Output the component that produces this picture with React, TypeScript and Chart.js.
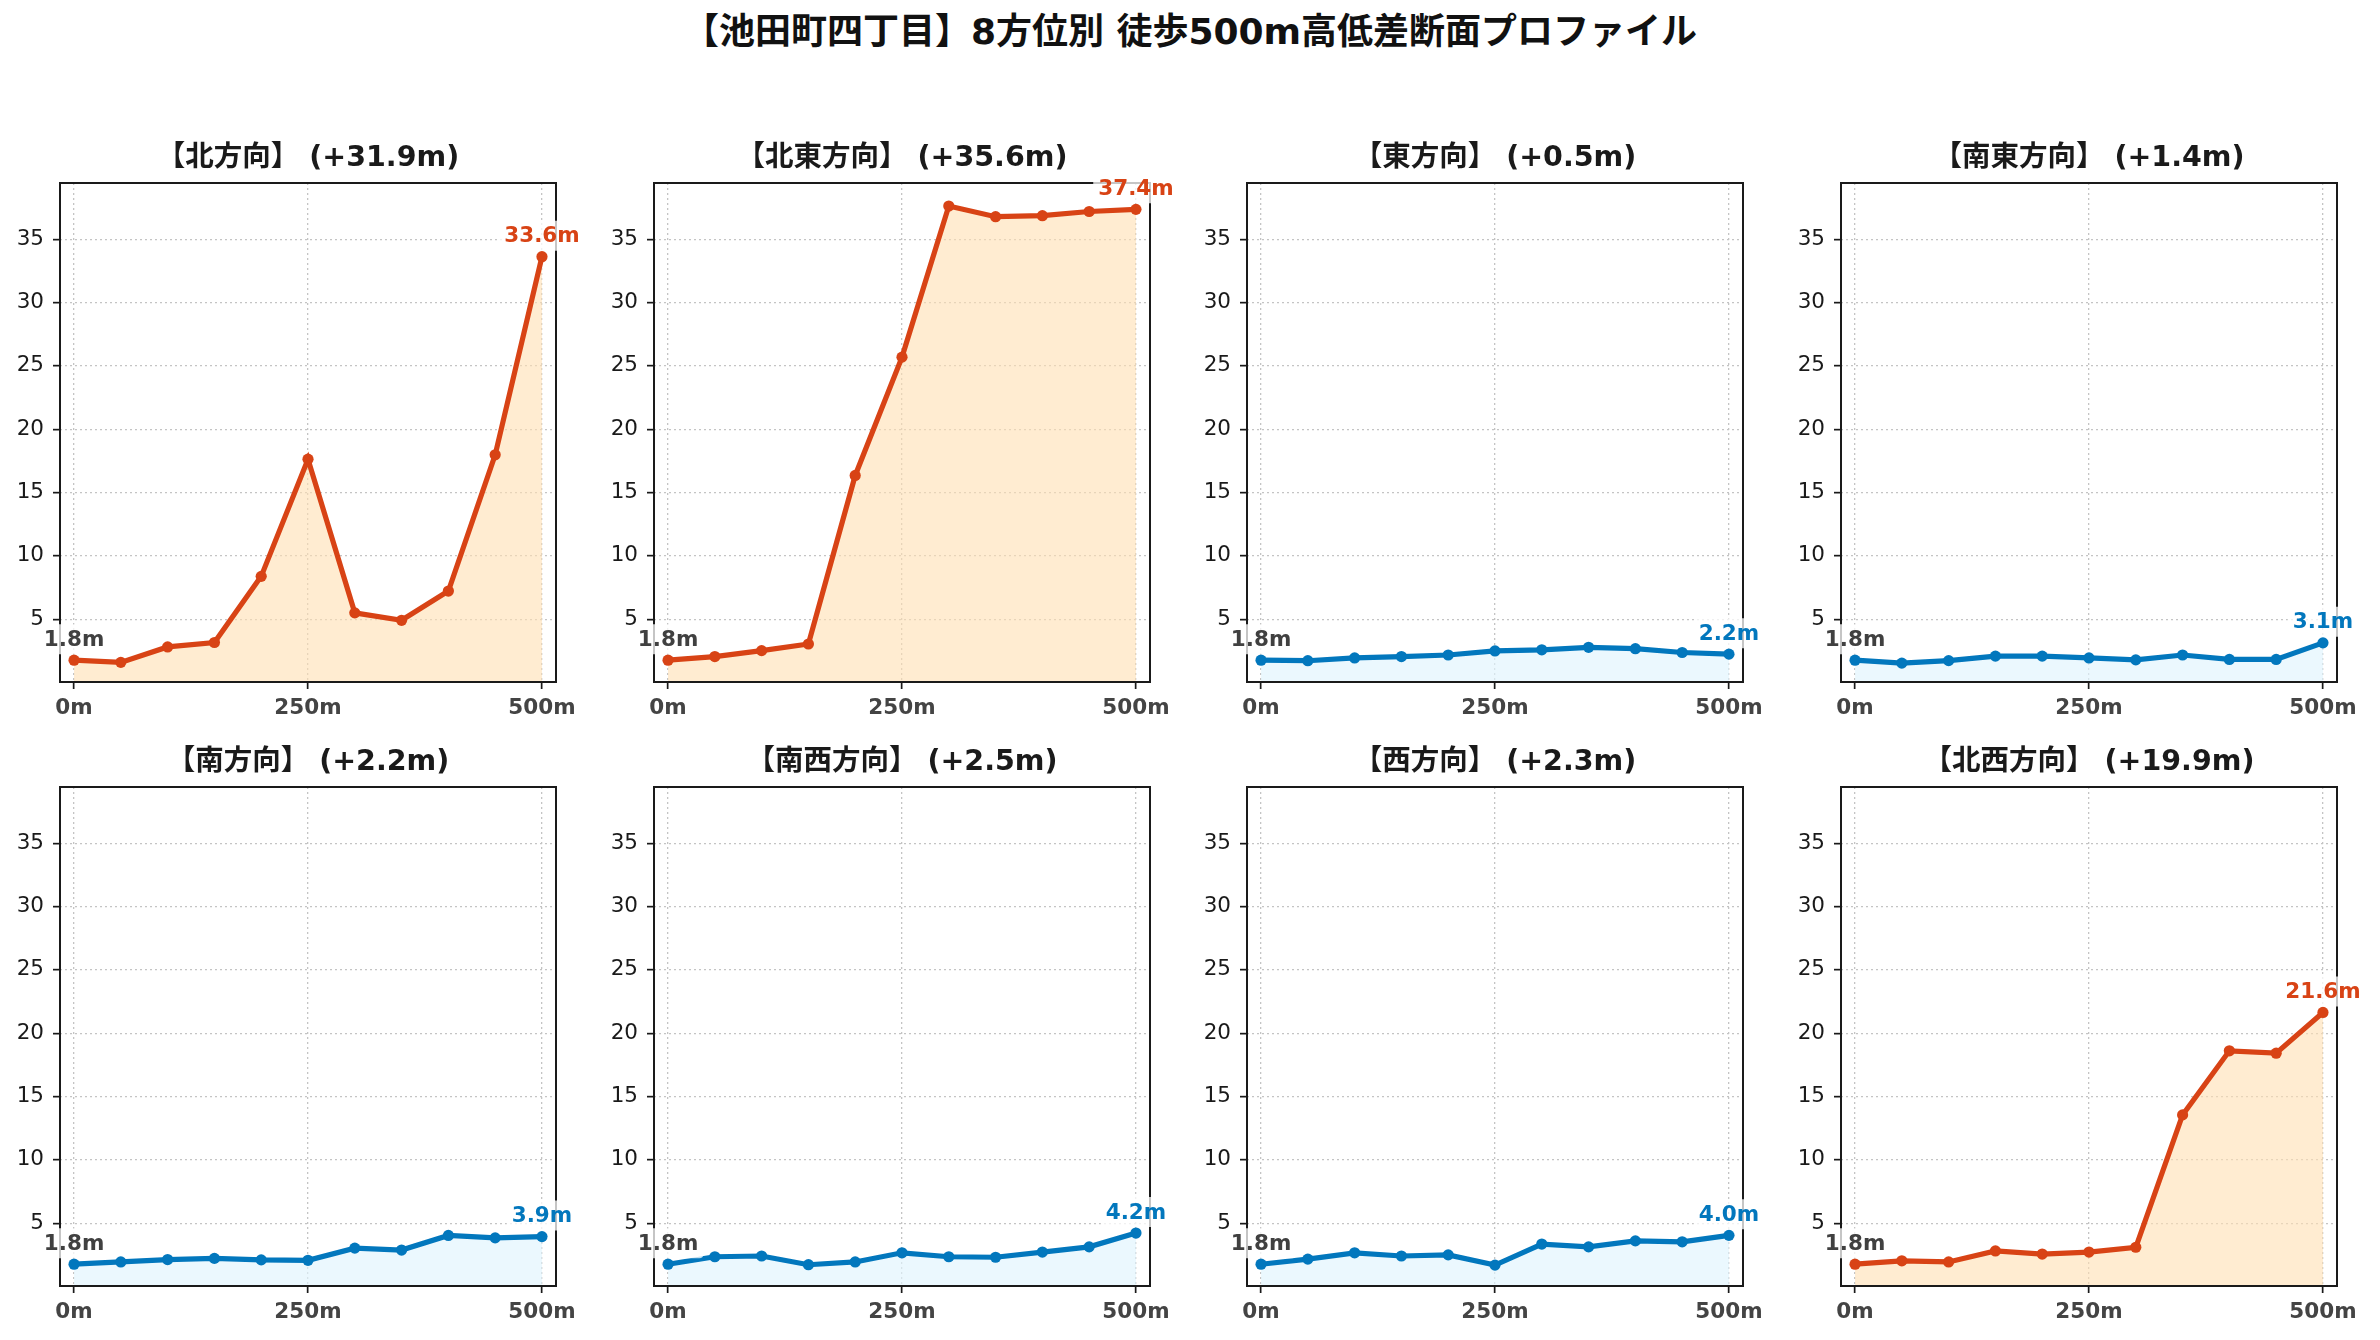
import { useEffect, useRef } from "react";
import { Chart, registerables, type ChartConfiguration, type Plugin } from "chart.js";

Chart.register(...registerables);

const FONT = '"DejaVu Sans", "Noto Sans CJK JP", sans-serif';

// distance from the start point (m)
const distances = [0, 50, 100, 150, 200, 250, 300, 350, 400, 450, 500];

// elevation (m) along each bearing
const northElev = [1.76, 1.59, 2.81, 3.16, 8.38, 17.63, 5.5, 4.91, 7.22, 17.98, 33.62];
const northEastElev = [1.76, 2.05, 2.52, 3.04, 16.35, 25.69, 37.62, 36.78, 36.86, 37.19, 37.36];
const eastElev = [1.76, 1.72, 1.94, 2.05, 2.17, 2.49, 2.58, 2.78, 2.67, 2.37, 2.24];
const southEastElev = [1.76, 1.53, 1.73, 2.08, 2.08, 1.94, 1.79, 2.17, 1.82, 1.82, 3.13];
const southElev = [1.76, 1.94, 2.13, 2.22, 2.1, 2.07, 3.03, 2.88, 4.03, 3.84, 3.94];
const southWestElev = [1.76, 2.35, 2.41, 1.72, 1.94, 2.66, 2.35, 2.31, 2.72, 3.13, 4.22];
const westElev = [1.76, 2.16, 2.66, 2.41, 2.5, 1.69, 3.35, 3.13, 3.6, 3.53, 4.04];
const northWestElev = [1.76, 2.03, 1.94, 2.81, 2.56, 2.72, 3.1, 13.55, 18.61, 18.42, 21.64];

const directionNames = ["北", "北東", "東", "南東", "南", "南西", "西", "北西"];
const directionValues = [
  northElev, northEastElev, eastElev, southEastElev,
  southElev, southWestElev, westElev, northWestElev,
];

const xTicks = [0, 250, 500];
const yTicks = [5, 10, 15, 20, 25, 30, 35];

const PANEL_LEFTS = [60, 654, 1247, 1841];
const PANEL_TOPS = [183, 787];
const AREA_W = 496;
const AREA_H = 499;
const PAD_LEFT = 60;
const PAD_TOP = 65;
const PAD_RIGHT = 44;
const PAD_BOTTOM = 52;

interface PanelProps {
  name: string;
  values: number[];
  left: number;
  top: number;
}

function ProfilePanel({ name, values, left, top }: PanelProps) {
  const canvasRef = useRef<HTMLCanvasElement>(null);
  const width = PAD_LEFT + AREA_W + PAD_RIGHT;
  const height = PAD_TOP + AREA_H + PAD_BOTTOM;

  useEffect(() => {
    if (!canvasRef.current) return;

    const gain = values[values.length - 1] - values[0];
    const rising = gain >= 5;
    const lineColor = rising ? "#D84315" : "#0277BD";
    const fillColor = rising ? "rgba(255, 224, 178, 0.6)" : "rgba(225, 245, 254, 0.65)";
    const title = `【${name}方向】 (+${gain.toFixed(1)}m)`;

    // frame, panel title and start/end tags
    const decor: Plugin<"line"> = {
      id: "decor",
      afterDraw(chart) {
        const { ctx, chartArea: a, scales } = chart;
        ctx.save();
        ctx.strokeStyle = "#1a1a1a";
        ctx.lineWidth = 2;
        ctx.strokeRect(a.left, a.top, a.right - a.left, a.bottom - a.top);

        ctx.font = `bold 28.5px ${FONT}`;
        ctx.fillStyle = "#1a1a1a";
        ctx.textAlign = "center";
        ctx.textBaseline = "middle";
        ctx.fillText(title, (a.left + a.right) / 2, a.top - 24);

        const tag = (i: number, color: string) => {
          const x = scales.x.getPixelForValue(distances[i]);
          const y = scales.y.getPixelForValue(values[i]) - 14.5;
          const text = `${values[i].toFixed(1)}m`;
          ctx.font = `bold 21.5px ${FONT}`;
          const w = ctx.measureText(text).width;
          ctx.fillStyle = "rgba(255, 255, 255, 0.75)";
          ctx.beginPath();
          ctx.roundRect(x - w / 2 - 5, y - 21.5, w + 10, 30, 4);
          ctx.fill();
          ctx.fillStyle = color;
          ctx.textAlign = "center";
          ctx.textBaseline = "alphabetic";
          ctx.fillText(text, x, y);
        };
        tag(0, "#404040");
        tag(values.length - 1, lineColor);
        ctx.restore();
      },
    };

    const grid = {
      color: "#c4c4c4",
      lineWidth: 1.3,
      tickLength: 7,
      tickColor: "#1a1a1a",
      tickWidth: 1.7,
    };

    const config: ChartConfiguration<"line"> = {
      type: "line",
      data: {
        datasets: [
          {
            data: distances.map((d, i) => ({ x: d, y: values[i] })),
            borderColor: lineColor,
            backgroundColor: fillColor,
            borderWidth: 5.2,
            pointRadius: 5.6,
            pointHoverRadius: 5.6,
            pointBackgroundColor: lineColor,
            pointBorderWidth: 0,
            fill: "start",
            tension: 0,
          },
        ],
      },
      options: {
        animation: false,
        responsive: false,
        devicePixelRatio: 1,
        events: [],
        layout: {
          autoPadding: false,
          padding: { left: 0, top: PAD_TOP, right: PAD_RIGHT, bottom: 0 },
        },
        plugins: {
          legend: { display: false },
          tooltip: { enabled: false },
        },
        scales: {
          x: {
            type: "linear",
            min: -15,
            max: 515,
            afterBuildTicks: (s) => {
              s.ticks = xTicks.map((v) => ({ value: v }));
            },
            afterFit: (s) => {
              s.height = PAD_BOTTOM;
            },
            ticks: {
              autoSkip: false,
              maxRotation: 0,
              padding: 7,
              color: "#444444",
              font: { family: FONT, size: 21.5, weight: "bold" },
              callback: (v) => `${v}m`,
            },
            grid,
            border: { display: false, dash: [2, 3] },
          },
          y: {
            type: "linear",
            min: 0.04,
            max: 39.44,
            afterBuildTicks: (s) => {
              s.ticks = yTicks.map((v) => ({ value: v }));
            },
            afterFit: (s) => {
              s.width = PAD_LEFT;
            },
            ticks: {
              padding: 9,
              color: "#1a1a1a",
              font: { family: FONT, size: 21.5 },
              callback: (v) => String(v),
            },
            grid,
            border: { display: false, dash: [2, 3] },
          },
        },
      },
      plugins: [decor],
    };

    const chart = new Chart(canvasRef.current, config);
    return () => {
      chart.destroy();
    };
  }, [name, values]);

  return (
    <canvas
      ref={canvasRef}
      width={width}
      height={height}
      style={{
        position: "absolute",
        left: left - PAD_LEFT,
        top: top - PAD_TOP,
        width,
        height,
      }}
    />
  );
}

export default function App() {
  return (
    <div
      style={{
        position: "absolute",
        left: 0,
        top: 0,
        width: 2380,
        height: 1340,
        background: "#ffffff",
        overflow: "hidden",
      }}
    >
      <div
        style={{
          position: "absolute",
          left: 0,
          top: 12,
          width: 2380,
          lineHeight: "40px",
          textAlign: "center",
          fontFamily: FONT,
          fontWeight: "bold",
          fontSize: 36,
          color: "#111111",
        }}
      >
        【池田町四丁目】8方位別 徒歩500m高低差断面プロファイル
      </div>
      {directionNames.map((name, i) => (
        <ProfilePanel
          key={name}
          name={name}
          values={directionValues[i]}
          left={PANEL_LEFTS[i % 4]}
          top={PANEL_TOPS[Math.floor(i / 4)]}
        />
      ))}
    </div>
  );
}
